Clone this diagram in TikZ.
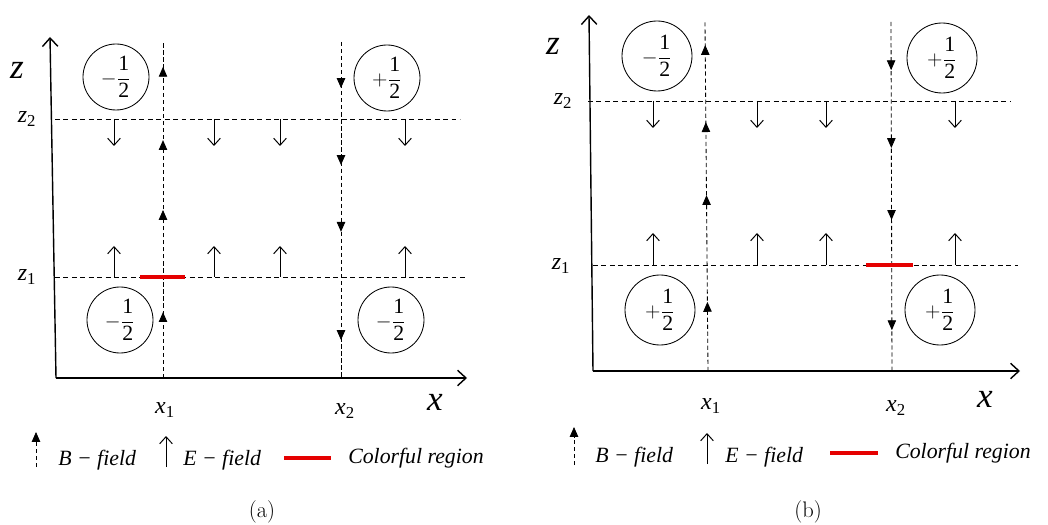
\documentclass[tikz,border=0pt]{standalone}
\usepackage{amsmath}
\usepackage{fontspec}
\newfontfamily\timesfont{Liberation Serif}
\usetikzlibrary{arrows.meta,decorations.markings}

\newcommand{\halfspin}[1]{$#1\dfrac{\text{1}}{\text{2}}$}

\begin{document}
\begin{tikzpicture}[
  x=0.025cm, y=-0.025cm,
  axis/.style={line width=1pt, -{Straight Barb[length=6pt,width=11pt]}},
  level/.style={line width=0.6pt, dash pattern=on 3.5pt off 2.5pt},
  bline/.style={line width=0.6pt, dash pattern=on 3pt off 2pt},
  bmark/.style={postaction={decorate, decoration={markings,
      mark=at position #1 with {\arrow{Triangle[length=7pt,width=6pt]}}}}},
  efield/.style={line width=0.7pt, -{Straight Barb[length=5pt,width=9pt]}},
  colorful/.style={line width=3pt, red!90!black},
  spin/.style={draw, circle, line width=0.6pt, minimum size=66*0.025cm,
    inner sep=0pt, font=\timesfont\fontsize{15.5}{18}\selectfont},
  lab/.style={font=\timesfont\itshape\fontsize{17}{20}\selectfont, inner sep=0pt},
  biglab/.style={font=\timesfont\itshape\fontsize{25}{28}\selectfont, inner sep=0pt},
  legend/.style={font=\timesfont\itshape\fontsize{15.5}{18}\selectfont, anchor=west, inner sep=0pt},
  caption/.style={font=\fontsize{16}{19}\selectfont}
]
\useasboundingbox (0,0) rectangle (1048,525);

%% ============================================================
%%  PANEL (a)
%% ============================================================
\coordinate (Oa) at (56,378);
\coordinate (zTa) at (50,37);
\coordinate (xTa) at (467,378);
\draw[axis] (Oa) -- (zTa);
\draw[axis] (Oa) -- (xTa);

\node[biglab] (za) at (17,70) {z};
\node[lab] (z2a) at (27,119) {z\textsubscript{\upshape 2}};
\node[lab] (z1a) at (27,277) {z\textsubscript{\upshape 1}};
\node[lab] (x1a) at (165,410) {x\textsubscript{\upshape 1}};
\node[lab] (x2a) at (345,411) {x\textsubscript{\upshape 2}};
\node[biglab] (xa) at (435,402) {x};

%% levels z1, z2
\draw[level] (55,119) -- (460,119);
\draw[level] (55,277) -- (467,277);

%% B-field lines
\draw[bline, bmark=0.196, bmark=0.5, bmark=0.708, bmark=0.926]
  (163,378) -- (163,42);
\draw[bline, bmark=0.137, bmark=0.366, bmark=0.565, bmark=0.887]
  (341,42) -- (341,378);

%% E-field arrows
\foreach \ex in {114,214,280,405} {
  \draw[efield] (\ex,119) -- (\ex,146);
  \draw[efield] (\ex,277) -- (\ex,246);
}

%% colorful region
\draw[colorful] (140,277) -- (185,277);

%% spins
\node[spin] (sA1) at (116,77) {\halfspin{-}};
\node[spin] (sA2) at (387,78) {\halfspin{+}};
\node[spin] (sA3) at (120,320) {\halfspin{-}};
\node[spin] (sA4) at (391,320) {\halfspin{-}};

%% legend
\draw[bline, -{Triangle[length=7pt,width=6pt]}] (36,467) -- (36,432);
\node[legend] (bA) at (58,460) {B − field};
\draw[efield] (166,467) -- (166,436);
\node[legend] (eA) at (183,460) {E − field};
\draw[colorful] (284,458) -- (331,458);
\node[legend] (cA) at (348,458) {Colorful region};

\node[caption] (capA) at (262,512) {(a)};

%% ============================================================
%%  PANEL (b)
%% ============================================================
\coordinate (Ob) at (593,371);
\coordinate (zTb) at (589,15);
\coordinate (xTb) at (1020,371);
\draw[axis] (Ob) -- (zTb);
\draw[axis] (Ob) -- (xTb);

\node[biglab] (zb) at (553,46) {z};
\node[lab] (z2b) at (563,101) {z\textsubscript{\upshape 2}};
\node[lab] (z1b) at (561,266) {z\textsubscript{\upshape 1}};
\node[lab] (x1b) at (711,406) {x\textsubscript{\upshape 1}};
\node[lab] (x2b) at (896,408) {x\textsubscript{\upshape 2}};
\node[biglab] (xb) at (985,399) {x};

%% levels z1, z2
\draw[level] (588,101) -- (1010,101);
\draw[level] (593,265) -- (1018,265);

%% B-field lines
\draw[bline, bmark=0.198, bmark=0.504, bmark=0.713, bmark=0.934]
  (708,371) -- (705,22);
\draw[bline, bmark=0.138, bmark=0.361, bmark=0.567, bmark=0.883]
  (891,22) -- (892,371);

%% E-field arrows
\foreach \ex in {653,757,826,955} {
  \draw[efield] (\ex,101) -- (\ex,128);
  \draw[efield] (\ex,265) -- (\ex,233);
}

%% colorful region
\draw[colorful] (866,265) -- (913,265);

%% spins
\node[spin, minimum size=70*0.025cm] (sB1) at (657,56) {\halfspin{-}};
\node[spin, minimum size=70*0.025cm] (sB2) at (942,58) {\halfspin{+}};
\node[spin, minimum size=70*0.025cm] (sB3) at (660,310) {\halfspin{+}};
\node[spin, minimum size=70*0.025cm] (sB4) at (940,310) {\halfspin{+}};

%% legend
\draw[bline, -{Triangle[length=7pt,width=6pt]}] (574,465) -- (574,427);
\node[legend] (bB) at (595,457) {B − field};
\draw[efield] (707,464) -- (707,433);
\node[legend] (eB) at (725,457) {E − field};
\draw[colorful] (830,453) -- (878,453);
\node[legend] (cB) at (895,453) {Colorful region};

\node[caption] (capB) at (808,512) {(b)};

\end{tikzpicture}
\end{document}
